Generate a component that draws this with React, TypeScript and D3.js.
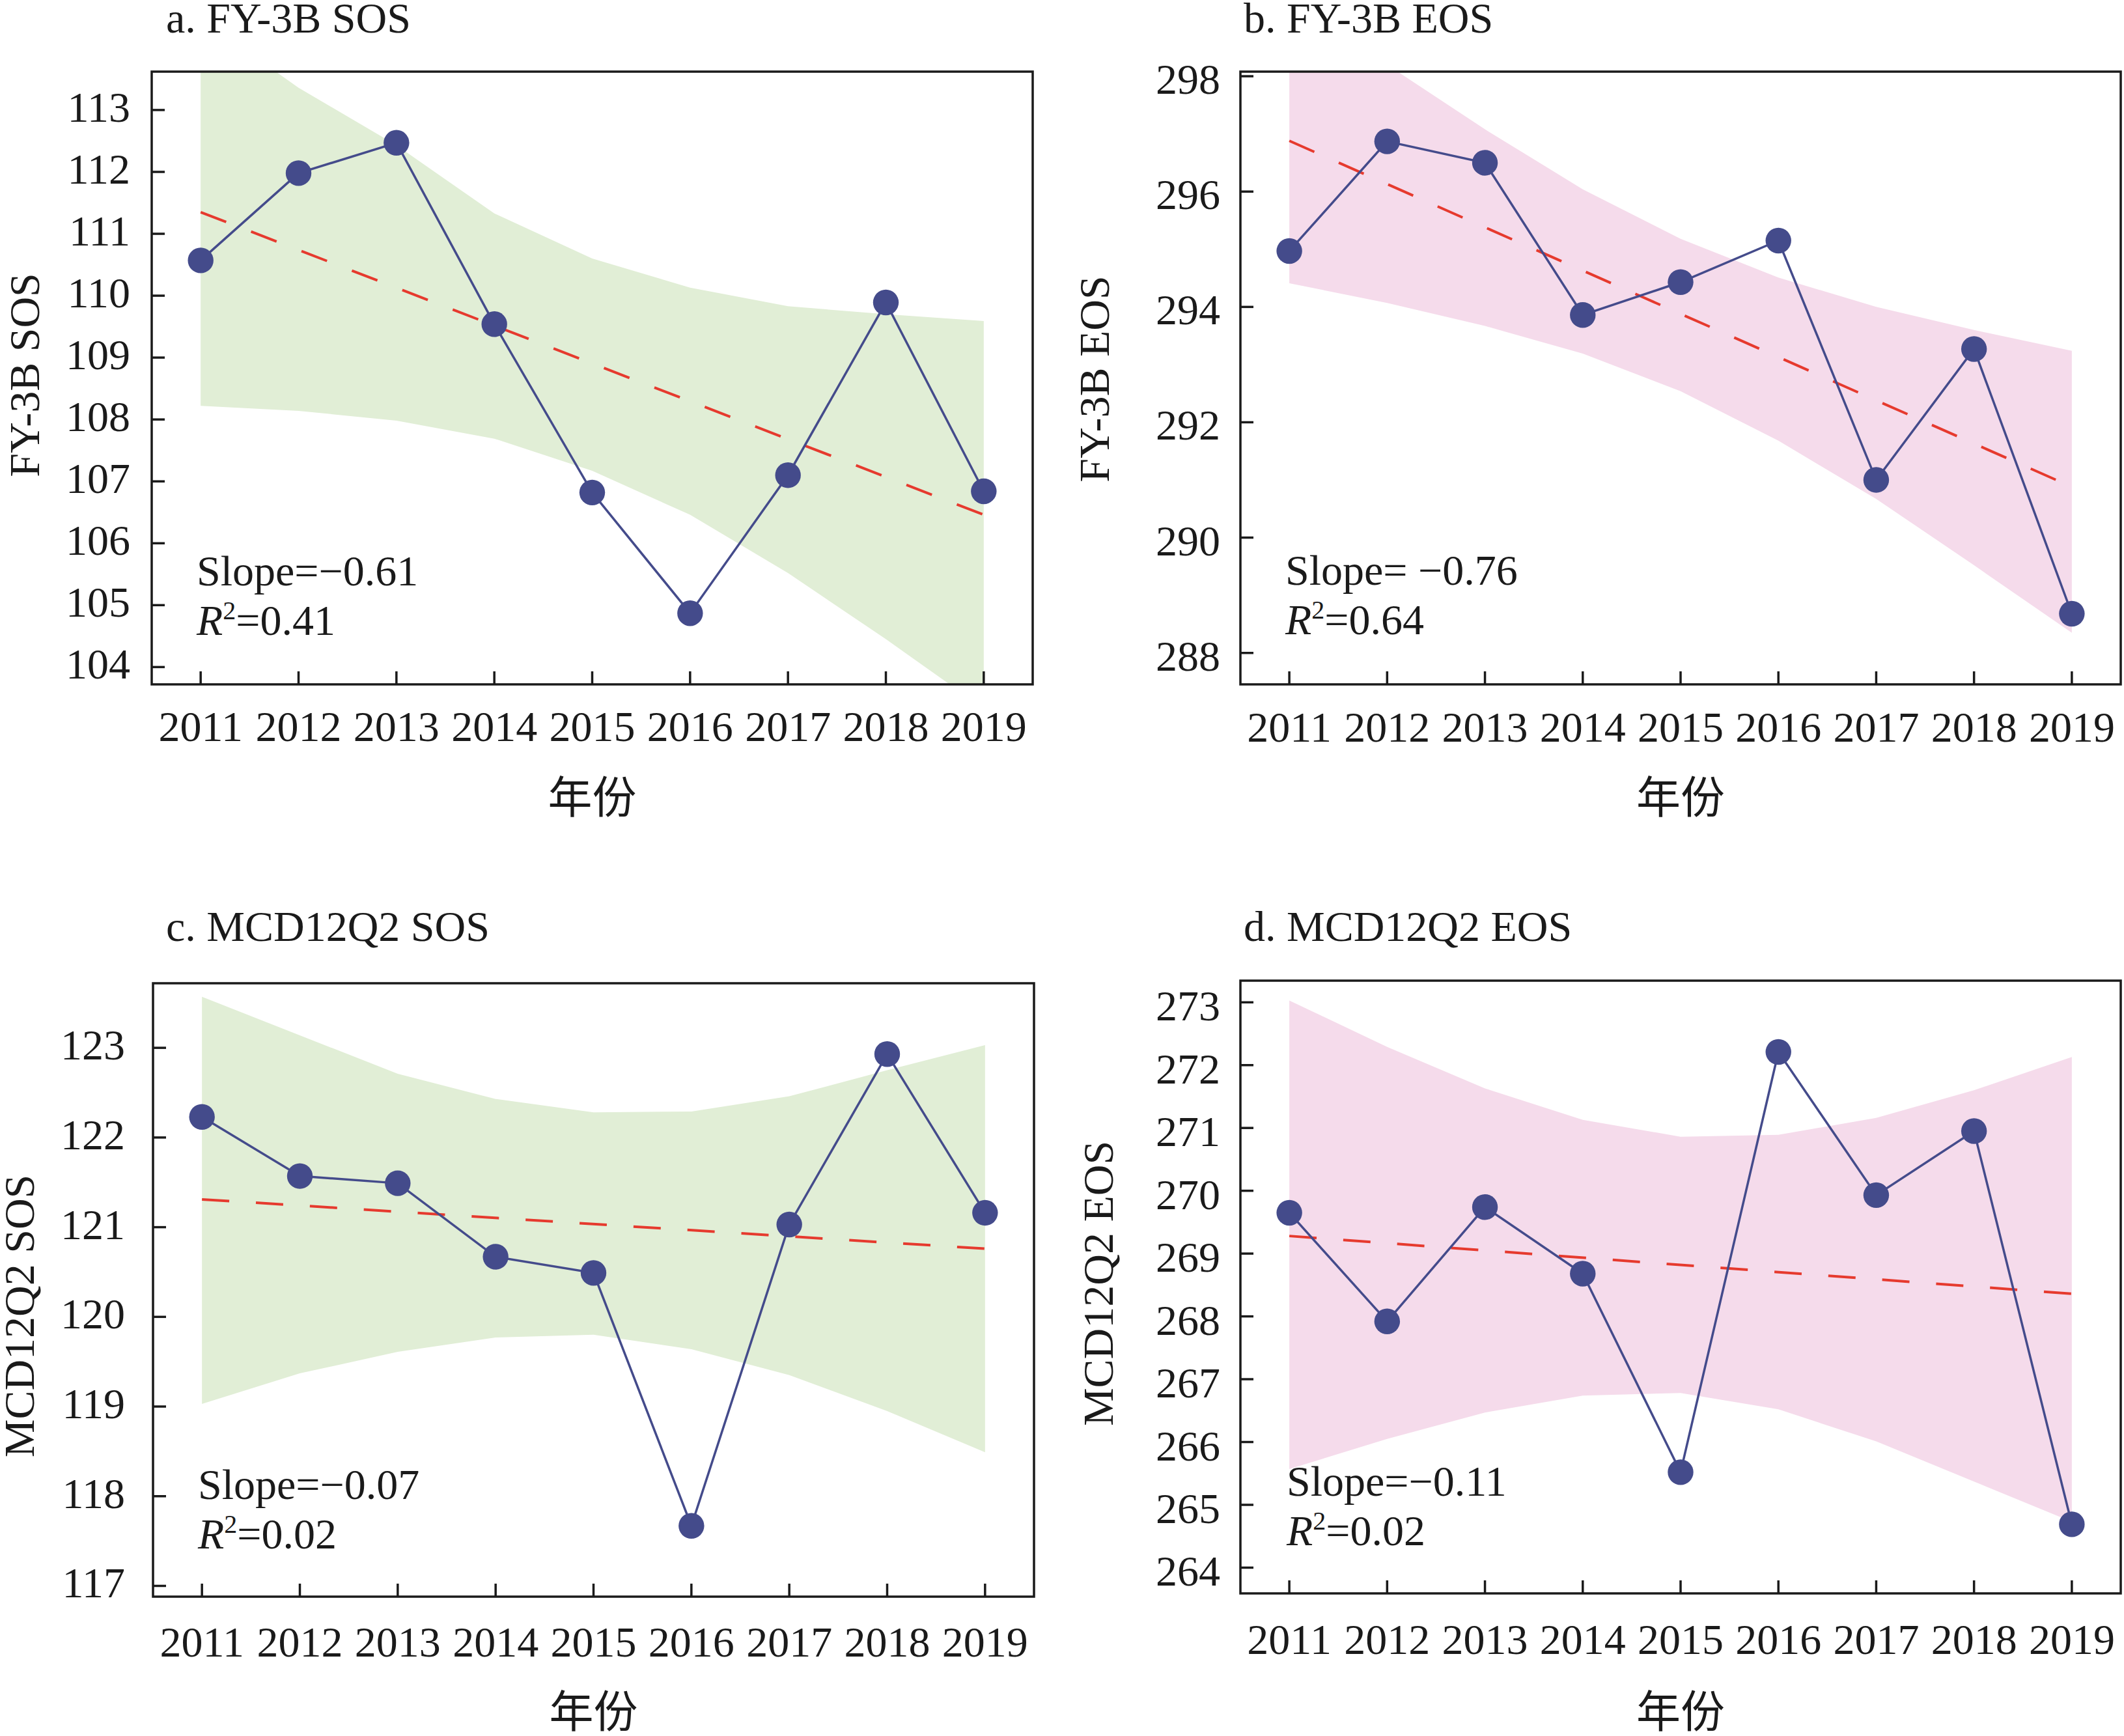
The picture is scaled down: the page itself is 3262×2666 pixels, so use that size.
import * as d3 from "d3";

// years on the x axis
const years = [2011, 2012, 2013, 2014, 2015, 2016, 2017, 2018, 2019];

// a. FY-3B SOS
const sosFy = [110.57, 111.98, 112.47, 109.54, 106.82, 104.87, 107.1, 109.89, 106.84];
const sosFyUpper = [114.48, 113.36, 112.43, 111.33, 110.6, 110.13, 109.83, 109.7, 109.59];
const sosFyLower = [108.22, 108.14, 107.98, 107.69, 107.17, 106.46, 105.52, 104.45, 103.33];
const sosFyTrend = [111.35, 106.46];
const sosFyTicks = [104, 105, 106, 107, 108, 109, 110, 111, 112, 113];

// b. FY-3B EOS
const eosFy = [294.97, 296.87, 296.5, 293.86, 294.43, 295.15, 291.0, 293.27, 288.68];
const eosFyUpper = [299.35, 298.2, 297.08, 296.04, 295.18, 294.51, 294.0, 293.6, 293.24];
const eosFyLower = [294.41, 294.07, 293.67, 293.19, 292.54, 291.68, 290.67, 289.52, 288.35];
const eosFyTrend = [296.88, 290.88];
const eosFyTicks = [288, 290, 292, 294, 296, 298];

// c. MCD12Q2 SOS
const sosMcd = [122.23, 121.57, 121.49, 120.67, 120.49, 117.67, 121.03, 122.93, 121.16];
const sosMcdUpper = [123.57, 123.14, 122.71, 122.43, 122.28, 122.29, 122.46, 122.75, 123.03];
const sosMcdLower = [119.03, 119.37, 119.61, 119.77, 119.8, 119.64, 119.35, 118.95, 118.49];
const sosMcdTrend = [121.31, 120.76];
const sosMcdTicks = [117, 118, 119, 120, 121, 122, 123];

// d. MCD12Q2 EOS
const eosMcd = [269.65, 267.92, 269.74, 268.68, 265.52, 272.21, 269.93, 270.95, 264.69];
const eosMcdUpper = [273.03, 272.29, 271.63, 271.13, 270.86, 270.89, 271.16, 271.6, 272.13];
const eosMcdLower = [265.57, 266.05, 266.47, 266.74, 266.78, 266.52, 266.01, 265.37, 264.73];
const eosMcdTrend = [269.28, 268.36];
const eosMcdTicks = [264, 265, 266, 267, 268, 269, 270, 271, 272, 273];

const titles = ["a. FY-3B SOS", "b. FY-3B EOS", "c. MCD12Q2 SOS", "d. MCD12Q2 EOS"];
const yTitles = ["FY-3B SOS", "FY-3B EOS", "MCD12Q2 SOS", "MCD12Q2 EOS"];
const slopeLabels = ["Slope=\u22120.61", "Slope= \u22120.76", "Slope=\u22120.07", "Slope=\u22120.11"];
const r2Labels = ["=0.41", "=0.64", "=0.02", "=0.02"];
const xTitle = "年份";

const GREEN = "#e1eed6";
const PINK = "#f5dbeb";
const BLUE = "#444b8b";
const RED = "#e63a2e";
const INK = "#1a1a1a";
const SERIF = '"Liberation Serif", "Times New Roman", serif';
const CJK = '"Noto Sans CJK SC", sans-serif';

const panels = [
  {
    id: "a", values: sosFy, upper: sosFyUpper, lower: sosFyLower, trend: sosFyTrend, ticks: sosFyTicks,
    domain: [103.72, 113.62], fill: GREEN,
    x0: 233, x1: 1586, y0: 110, y1: 1051,
    titleX: 255, titleY: 50, labelGap: 33, labelDy: 18, yearDy: 87,
    yTitleX: 60, yTitleY: 576, xTitleY: 1249, noteX: 302, noteY: 899,
  },
  {
    id: "b", values: eosFy, upper: eosFyUpper, lower: eosFyLower, trend: eosFyTrend, ticks: eosFyTicks,
    domain: [287.455, 298.08], fill: PINK,
    x0: 1905, x1: 3257, y0: 110, y1: 1051,
    titleX: 1910, titleY: 50, labelGap: 31, labelDy: 27, yearDy: 88,
    yTitleX: 1703, yTitleY: 582, xTitleY: 1249, noteX: 1974, noteY: 898,
  },
  {
    id: "c", values: sosMcd, upper: sosMcdUpper, lower: sosMcdLower, trend: sosMcdTrend, ticks: sosMcdTicks,
    domain: [116.88, 123.72], fill: GREEN,
    x0: 235, x1: 1588, y0: 1510, y1: 2452,
    titleX: 255, titleY: 1445, labelGap: 43, labelDy: 18, yearDy: 92,
    yTitleX: 52, yTitleY: 2021, xTitleY: 2653, noteX: 304, noteY: 2302,
  },
  {
    id: "d", values: eosMcd, upper: eosMcdUpper, lower: eosMcdLower, trend: eosMcdTrend, ticks: eosMcdTicks,
    domain: [263.59, 273.345], fill: PINK,
    x0: 1905, x1: 3257, y0: 1506, y1: 2447,
    titleX: 1910, titleY: 1445, labelGap: 31, labelDy: 28, yearDy: 93,
    yTitleX: 1709, yTitleY: 1971, xTitleY: 2653, noteX: 1976, noteY: 2297,
  },
];

type Spec = (typeof panels)[number];

function Panel({ p, idx }: { p: Spec; idx: number }) {
  const x = d3
    .scaleLinear()
    .domain([years[0] - 0.5, years[years.length - 1] + 0.5])
    .range([p.x0, p.x1]);
  const y = d3.scaleLinear().domain(p.domain).range([p.y1, p.y0]);

  const band = d3
    .area<number>()
    .x((_, i) => x(years[i]))
    .y0((_, i) => y(p.lower[i]))
    .y1((_, i) => y(p.upper[i]));
  const line = d3
    .line<number>()
    .x((_, i) => x(years[i]))
    .y((d) => y(d));
  const clipId = `clip-${p.id}`;
  const tickLen = 20;

  return (
    <g>
      <defs>
        <clipPath id={clipId}>
          <rect x={p.x0} y={p.y0} width={p.x1 - p.x0} height={p.y1 - p.y0} />
        </clipPath>
      </defs>
      <text x={p.titleX} y={p.titleY} fontFamily={SERIF} fontSize={66} fill={INK}>
        {titles[idx]}
      </text>

      <g clipPath={`url(#${clipId})`}>
        <path d={band(p.values) ?? ""} fill={p.fill} />
        <line
          x1={x(years[0])}
          x2={x(years[years.length - 1])}
          y1={y(p.trend[0])}
          y2={y(p.trend[1])}
          stroke={RED}
          strokeWidth={4}
          strokeDasharray="42 41"
        />
      </g>
      <path d={line(p.values) ?? ""} fill="none" stroke={BLUE} strokeWidth={3.5} />
      {p.values.map((v, i) => (
        <circle key={i} cx={x(years[i])} cy={y(v)} r={19.7} fill={BLUE} />
      ))}

      <rect
        x={p.x0}
        y={p.y0}
        width={p.x1 - p.x0}
        height={p.y1 - p.y0}
        fill="none"
        stroke={INK}
        strokeWidth={3.5}
      />
      {p.ticks.map((t) => (
        <g key={t}>
          <line x1={p.x0} x2={p.x0 + tickLen} y1={y(t)} y2={y(t)} stroke={INK} strokeWidth={3.5} />
          <text
            x={p.x0 - p.labelGap}
            y={y(t) + p.labelDy}
            textAnchor="end"
            fontFamily={SERIF}
            fontSize={66}
            fill={INK}
          >
            {t}
          </text>
        </g>
      ))}
      {years.map((yr) => (
        <g key={yr}>
          <line x1={x(yr)} x2={x(yr)} y1={p.y1} y2={p.y1 - tickLen} stroke={INK} strokeWidth={3.5} />
          <text
            x={x(yr)}
            y={p.y1 + p.yearDy}
            textAnchor="middle"
            fontFamily={SERIF}
            fontSize={66}
            fill={INK}
          >
            {yr}
          </text>
        </g>
      ))}

      <text
        transform={`translate(${p.yTitleX},${p.yTitleY}) rotate(-90)`}
        textAnchor="middle"
        fontFamily={SERIF}
        fontSize={66}
        fill={INK}
      >
        {yTitles[idx]}
      </text>
      <text
        x={(p.x0 + p.x1) / 2}
        y={p.xTitleY}
        textAnchor="middle"
        fontFamily={CJK}
        fontSize={68}
        fill={INK}
      >
        {xTitle}
      </text>

      <text x={p.noteX} y={p.noteY} fontFamily={SERIF} fontSize={66} fill={INK}>
        {slopeLabels[idx]}
      </text>
      <text x={p.noteX} y={p.noteY + 76} fontFamily={SERIF} fontSize={66} fill={INK}>
        <tspan fontStyle="italic">R</tspan>
        <tspan fontSize={40} dy={-24}>2</tspan>
        <tspan dy={24}>{r2Labels[idx]}</tspan>
      </text>
    </g>
  );
}

export default function App() {
  return (
    <svg
      width={3262}
      height={2666}
      style={{ position: "absolute", left: 0, top: 0, background: "#fff" }}
    >
      <rect width={3262} height={2666} fill="#fff" />
      {panels.map((p, i) => (
        <Panel key={p.id} p={p} idx={i} />
      ))}
    </svg>
  );
}
